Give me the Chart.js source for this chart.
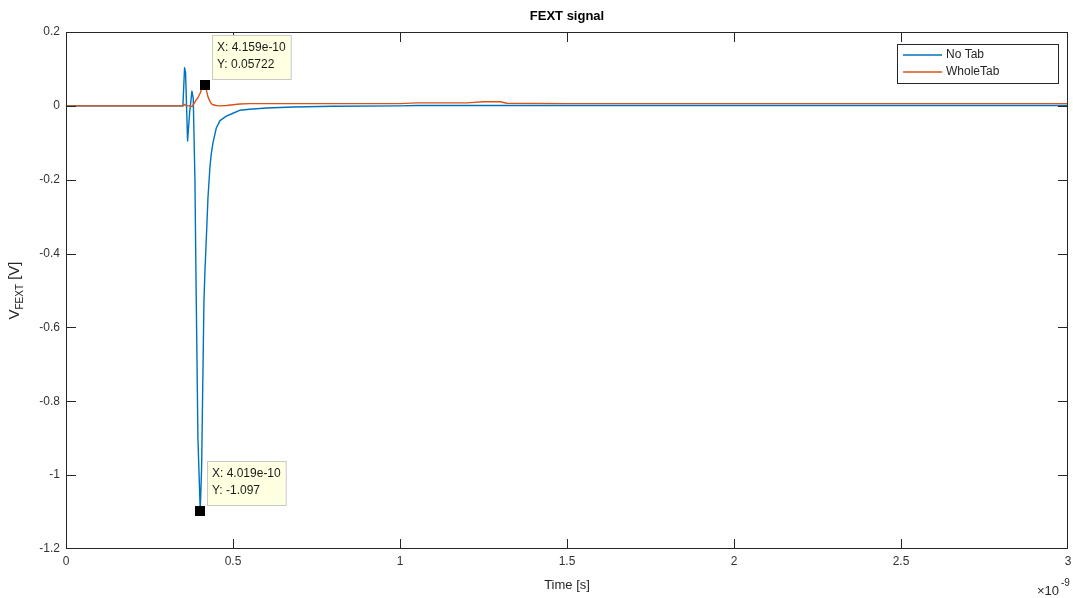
<!DOCTYPE html>
<html>
<head>
<meta charset="utf-8">
<title>FEXT signal</title>
<script src="https://cdn.jsdelivr.net/npm/chart.js@4"></script>
<style>
  body { margin: 0; background: #fff; }
  canvas { display: block; }
</style>
</head>
<body>
<canvas id="myChart" width="1073" height="598"></canvas>
<script>
// time axis in units of 1e-9 s (shown with the x10^-9 multiplier)
const timeNs = [0, 0.1, 0.2, 0.3, 0.345, 0.35, 0.355, 0.358, 0.364, 0.37, 0.377, 0.381, 0.386,
  0.389, 0.395, 0.4019, 0.406, 0.413, 0.4159, 0.421, 0.425, 0.431, 0.435, 0.44, 0.45, 0.461,
  0.48, 0.5, 0.52, 0.55, 0.6, 0.68, 0.8, 1.0, 1.05, 1.2, 1.25, 1.3, 1.32, 1.5, 2.0, 2.5, 3.0];
const noTab = [0, 0, 0, 0, 0, 0, 0.103, 0.09, -0.095, -0.02, 0.04, 0.02, -0.2,
  -0.45, -0.9, -1.097, -0.98, -0.53, -0.45, -0.34, -0.25, -0.165, -0.13, -0.1, -0.06, -0.04,
  -0.028, -0.02, -0.012, -0.009, -0.006, -0.003, -0.001, 0, 0.001, 0.001, 0.001, 0.001, 0.001, 0.001, 0.001, 0.001, 0.001];
const wholeTab = [0, 0, 0, 0, 0, 0, 0.004, 0.002, 0, 0, -0.002, 0.003, 0.01,
  0.015, 0.022, 0.035, 0.045, 0.054, 0.05722, 0.04, 0.025, 0.012, 0.006, 0.003, 0.001, 0,
  0.001, 0.003, 0.005, 0.006, 0.006, 0.006, 0.006, 0.006, 0.008, 0.008, 0.011, 0.011, 0.007, 0.006, 0.006, 0.006, 0.006];
const seriesNames = ['No Tab', 'WholeTab'];
const xTicks = [0, 0.5, 1, 1.5, 2, 2.5, 3];
const yTicks = [0.2, 0, -0.2, -0.4, -0.6, -0.8, -1, -1.2];
// data tips: [dataset index, point index, label lines]
const dataTips = [
  [1, 18, ['X: 4.159e-10', 'Y: 0.05722']],
  [0, 15, ['X: 4.019e-10', 'Y: -1.097']]
];

const blue = '#0072BD';
const orange = '#D95319';
const axisColor = '#262626';
const font = '"Liberation Sans", Arial, sans-serif';

function points(ys) {
  return timeNs.map(function(t, i) { return { x: t, y: ys[i] }; });
}

const matlabLook = {
  id: 'matlabLook',
  afterDraw: function(chart) {
    const c = chart.ctx;
    const a = chart.chartArea;
    const xs = chart.scales.x, ys = chart.scales.y;
    c.save();
    // box and inward ticks
    c.strokeStyle = axisColor;
    c.lineWidth = 1;
    c.strokeRect(a.left + 0.5, a.top + 0.5, a.right - a.left - 1, a.bottom - a.top - 1);
    c.beginPath();
    xTicks.forEach(function(v) {
      const px = Math.min(Math.round(xs.getPixelForValue(v)), a.right - 1) + 0.5;
      c.moveTo(px, a.bottom); c.lineTo(px, a.bottom - 10);
      c.moveTo(px, a.top); c.lineTo(px, a.top + 10);
    });
    yTicks.forEach(function(v) {
      const py = Math.min(Math.round(ys.getPixelForValue(v)), a.bottom - 1) + 0.5;
      c.moveTo(a.left, py); c.lineTo(a.left + 10, py);
      c.moveTo(a.right, py); c.lineTo(a.right - 10, py);
    });
    c.stroke();

    // title
    c.fillStyle = '#000';
    c.font = 'bold 13px ' + font;
    c.textAlign = 'center';
    c.textBaseline = 'middle';
    c.fillText('FEXT signal', (a.left + a.right) / 2, 16);

    // x label and multiplier
    c.fillStyle = axisColor;
    c.font = '13px ' + font;
    c.fillText('Time [s]', (a.left + a.right) / 2, 585);
    c.textAlign = 'left';
    c.fillText('\u00d710', 1037, 591);
    c.font = '10px ' + font;
    c.fillText('-9', 1061, 583);

    // y label with subscript
    c.translate(19, (a.top + a.bottom) / 2);
    c.rotate(-Math.PI / 2);
    c.textBaseline = 'alphabetic';
    const big = '15px ' + font;
    const small = '10px ' + font;
    c.font = big; const wV = c.measureText('V').width; const wU = c.measureText(' [V]').width;
    c.font = small; const wS = c.measureText('FEXT').width;
    let x0 = -(wV + wS + wU) / 2;
    c.font = big; c.fillText('V', x0, 0); x0 += wV;
    c.font = small; c.fillText('FEXT', x0, 4); x0 += wS;
    c.font = big; c.fillText(' [V]', x0, 0);
    c.setTransform(1, 0, 0, 1, 0, 0);

    // legend
    c.fillStyle = '#fff';
    c.fillRect(897, 44, 161, 39);
    c.strokeStyle = axisColor;
    c.lineWidth = 1;
    c.strokeRect(897.5, 44.5, 161, 39);
    c.font = '12px ' + font;
    c.textBaseline = 'middle';
    [blue, orange].forEach(function(col, i) {
      const y = 55 + i * 17;
      c.strokeStyle = col;
      c.lineWidth = 1.5;
      c.beginPath(); c.moveTo(903, y); c.lineTo(942, y); c.stroke();
      c.fillStyle = axisColor;
      c.fillText(seriesNames[i], 946, y);
    });

    // data tips
    dataTips.forEach(function(tip) {
      const ds = tip[0] === 0 ? noTab : wholeTab;
      const px = xs.getPixelForValue(timeNs[tip[1]]);
      const py = ys.getPixelForValue(ds[tip[1]]);
      c.fillStyle = '#000';
      c.fillRect(Math.round(px) - 5, Math.round(py) - 5, 10, 10);
      const bx = Math.round(px) + 7, by = Math.round(py) - 50;
      c.font = '12px ' + font;
      const w = Math.max(c.measureText(tip[2][0]).width, c.measureText(tip[2][1]).width) + 10;
      c.fillStyle = '#FFFFE1';
      c.fillRect(bx, by, w, 44);
      c.strokeStyle = '#c8c8c8';
      c.lineWidth = 1;
      c.strokeRect(bx + 0.5, by + 0.5, w, 44);
      c.fillStyle = '#1a1a1a';
      c.textAlign = 'left';
      c.fillText(tip[2][0], bx + 5, by + 13);
      c.fillText(tip[2][1], bx + 5, by + 30);
    });
    c.restore();
  }
};

document.addEventListener('DOMContentLoaded', function() {
  const ctx = document.getElementById('myChart').getContext('2d');
  new Chart(ctx, {
    type: 'line',
    data: {
      datasets: [{
        label: seriesNames[0],
        data: points(noTab),
        borderColor: blue,
        borderWidth: 1.4,
        borderJoinStyle: 'round',
        pointRadius: 0,
        order: 1
      }, {
        label: seriesNames[1],
        data: points(wholeTab),
        borderColor: orange,
        borderWidth: 1.4,
        borderJoinStyle: 'round',
        pointRadius: 0,
        order: 0
      }]
    },
    options: {
      responsive: false,
      animation: false,
      layout: { padding: { top: 32, right: 5, left: 0, bottom: 0 } },
      scales: {
        x: {
          type: 'linear', min: 0, max: 3,
          grid: { display: false, drawTicks: false },
          border: { display: false },
          afterBuildTicks: function(s) { s.ticks = xTicks.map(function(v) { return { value: v }; }); },
          afterFit: function(s) { s.height = 49; s.paddingLeft = 0; s.paddingRight = 0; },
          ticks: {
            padding: 5, color: '#333', maxRotation: 0,
            font: { family: font, size: 12 },
            callback: function(v) { return String(v); }
          }
        },
        y: {
          min: -1.2, max: 0.2,
          grid: { display: false, drawTicks: false },
          border: { display: false },
          afterBuildTicks: function(s) { s.ticks = yTicks.map(function(v) { return { value: v }; }); },
          afterFit: function(s) { s.width = 66; s.paddingTop = 0; s.paddingBottom = 0; },
          ticks: {
            padding: 6, color: '#333',
            font: { family: font, size: 12 },
            callback: function(v) { return String(Number(v.toFixed(1))); }
          }
        }
      },
      plugins: {
        legend: { display: false },
        tooltip: { enabled: false }
      }
    },
    plugins: [matlabLook]
  });
});
</script>
</body>
</html>
